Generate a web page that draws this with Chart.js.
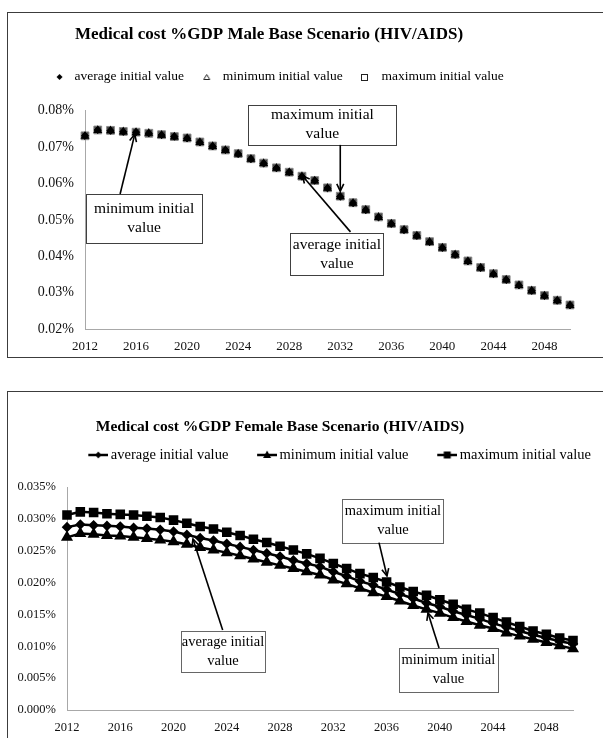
<!DOCTYPE html>
<html><head><meta charset="utf-8">
<script src="https://cdn.jsdelivr.net/npm/chart.js@4.4.1/dist/chart.umd.min.js"></script>
<style>
html,body{margin:0;padding:0;background:#fff;overflow:hidden;width:603px;height:738px;}
.frame{position:absolute;border:1px solid #3c3c3c;}
#f1{left:7px;top:12px;width:700px;height:344px;}
#f2{left:7px;top:391px;width:700px;height:400px;}
.frame canvas{position:absolute;left:0;top:0;}
</style></head><body>
<div class="frame" id="f1"><canvas id="c1" width="595" height="343"></canvas></div>
<div class="frame" id="f2"><canvas id="c2" width="595" height="346"></canvas></div>
<script>
// ---------- data ----------
const years = ['2012','2013','2014','2015','2016','2017','2018','2019','2020','2021','2022','2023','2024','2025','2026','2027','2028','2029','2030','2031','2032','2033','2034','2035','2036','2037','2038','2039','2040','2041','2042','2043','2044','2045','2046','2047','2048','2049','2050'];
const seriesNames = ['average initial value','minimum initial value','maximum initial value'];

// Male, % of GDP
const maleAvg = [0.0731,0.0747,0.0745,0.0742,0.0741,0.0738,0.0733,0.0729,0.0724,0.0713,0.0702,0.0692,0.0681,0.0667,0.0655,0.0642,0.0631,0.0619,0.0608,0.0587,0.0564,0.0546,0.0527,0.0507,0.0489,0.0472,0.0456,0.0439,0.0423,0.0404,0.0386,0.0368,0.0351,0.0335,0.0320,0.0305,0.0291,0.0278,0.0265];
const maleMin = [0.0730,0.0746,0.0745,0.0742,0.0740,0.0738,0.0733,0.0728,0.0724,0.0713,0.0702,0.0691,0.0681,0.0667,0.0655,0.0642,0.0630,0.0619,0.0607,0.0587,0.0564,0.0546,0.0527,0.0507,0.0489,0.0472,0.0456,0.0439,0.0423,0.0404,0.0386,0.0368,0.0351,0.0335,0.0320,0.0305,0.0291,0.0278,0.0265];
const maleMax = [0.0731,0.0747,0.0746,0.0743,0.0741,0.0738,0.0734,0.0729,0.0725,0.0714,0.0703,0.0692,0.0682,0.0668,0.0656,0.0643,0.0631,0.0620,0.0608,0.0588,0.0565,0.0547,0.0528,0.0508,0.0490,0.0473,0.0457,0.0440,0.0424,0.0405,0.0387,0.0369,0.0352,0.0336,0.0321,0.0306,0.0292,0.0279,0.0266];

// Female, % of GDP
const femaleAvg = [0.0287,0.0291,0.0290,0.0289,0.0288,0.0286,0.0285,0.0283,0.0280,0.0275,0.0270,0.0266,0.0261,0.0256,0.0251,0.0246,0.0241,0.0235,0.0230,0.0225,0.0217,0.0210,0.0202,0.0196,0.0189,0.0182,0.0175,0.0168,0.0162,0.0155,0.0149,0.0143,0.0136,0.0130,0.0124,0.0118,0.0113,0.0108,0.0104];
const femaleMin = [0.0271,0.0277,0.0276,0.0274,0.0273,0.0271,0.0269,0.0267,0.0264,0.0260,0.0255,0.0251,0.0247,0.0242,0.0237,0.0232,0.0227,0.0222,0.0217,0.0212,0.0204,0.0198,0.0191,0.0184,0.0178,0.0171,0.0164,0.0158,0.0152,0.0145,0.0139,0.0133,0.0128,0.0121,0.0116,0.0111,0.0106,0.0101,0.0096];
const femaleMax = [0.0306,0.0311,0.0310,0.0308,0.0307,0.0306,0.0304,0.0302,0.0298,0.0293,0.0288,0.0284,0.0279,0.0274,0.0268,0.0263,0.0257,0.0251,0.0245,0.0238,0.0230,0.0222,0.0214,0.0208,0.0201,0.0193,0.0186,0.0180,0.0173,0.0166,0.0158,0.0152,0.0145,0.0138,0.0131,0.0124,0.0119,0.0113,0.0109];

// axis ticks
const maleYTicks = [0.02,0.03,0.04,0.05,0.06,0.07,0.08];
const femaleYTicks = [0.000,0.005,0.010,0.015,0.020,0.025,0.030,0.035];
const yearTickEvery = 4;

// ---------- helpers ----------
const SERIF = "'Liberation Serif','Times New Roman',serif";
Chart.defaults.font.family = SERIF;
Chart.defaults.color = '#000';

function makeIcon(w, h, draw) {
  const c = document.createElement('canvas');
  c.width = w; c.height = h;
  draw(c.getContext('2d'));
  return c;
}
// top legend icons
const topIcons = [
  makeIcon(16, 10, g => { g.fillStyle = '#000'; g.beginPath(); g.moveTo(6.5,2); g.lineTo(9.5,5); g.lineTo(6.5,8); g.lineTo(3.5,5); g.closePath(); g.fill(); }),
  makeIcon(16, 10, g => { g.strokeStyle = '#222'; g.lineWidth = 1; g.beginPath(); g.moveTo(5.5,2.5); g.lineTo(8.5,7.5); g.lineTo(2.5,7.5); g.closePath(); g.stroke(); }),
  makeIcon(16, 10, g => { g.strokeStyle = '#222'; g.lineWidth = 1; g.strokeRect(1.5,2.5,6,6); })
];
// bottom legend icons: line + marker
function lineIcon(marker) {
  return makeIcon(24, 12, g => {
    g.strokeStyle = '#000'; g.lineWidth = 2.5; g.beginPath(); g.moveTo(4,6); g.lineTo(24,6); g.stroke();
    g.fillStyle = '#000'; g.beginPath();
    if (marker === 'diamond') { g.moveTo(14,2.5); g.lineTo(17,6); g.lineTo(14,9.5); g.lineTo(11,6); }
    else if (marker === 'triangle') { g.moveTo(14,1.5); g.lineTo(18,9); g.lineTo(10,9); }
    else { g.rect(10.5,2.5,7,7); }
    g.closePath(); g.fill();
  });
}
const bottomIcons = [lineIcon('diamond'), lineIcon('triangle'), lineIcon('square')];

function labelsWith(icons) {
  return function(chart) {
    const items = Chart.defaults.plugins.legend.labels.generateLabels(chart);
    items.forEach((it, i) => { it.pointStyle = icons[i]; });
    return items;
  };
}

// callout boxes + arrows, positioned in data coordinates
const calloutPlugin = {
  id: 'callouts',
  afterDatasetsDraw(chart, args, opts) {
    const {ctx} = chart;
    const xs = chart.scales.x, ys = chart.scales.y;
    ctx.save();
    (opts.items || []).forEach(it => {
      const cx = xs.getPixelForValue(it.at[0]), cy = ys.getPixelForValue(it.at[1]);
      const bx = Math.round(cx - it.w / 2) + 0.5, by = Math.round(cy - it.h / 2) + 0.5;
      ctx.fillStyle = '#fff';
      ctx.fillRect(bx, by, it.w, it.h);
      ctx.strokeStyle = opts.boxColor; ctx.lineWidth = 1;
      ctx.strokeRect(bx, by, it.w, it.h);
      ctx.fillStyle = '#000';
      ctx.font = opts.fontSize + 'px ' + SERIF;
      ctx.textAlign = 'center'; ctx.textBaseline = 'middle';
      const lh = opts.lineHeight;
      it.lines.forEach((t, k) => {
        ctx.fillText(t, cx, cy + (k - (it.lines.length - 1) / 2) * lh);
      });
      // arrow
      const x0 = xs.getPixelForValue(it.from[0]), y0 = ys.getPixelForValue(it.from[1]);
      const x1 = xs.getPixelForValue(it.to[0]), y1 = ys.getPixelForValue(it.to[1]);
      ctx.strokeStyle = '#000'; ctx.lineWidth = 1.6;
      ctx.beginPath(); ctx.moveTo(x0, y0); ctx.lineTo(x1, y1); ctx.stroke();
      const ang = Math.atan2(y1 - y0, x1 - x0), L = 8, spread = 0.45;
      ctx.beginPath();
      ctx.moveTo(x1 - L * Math.cos(ang - spread), y1 - L * Math.sin(ang - spread));
      ctx.lineTo(x1, y1);
      ctx.lineTo(x1 - L * Math.cos(ang + spread), y1 - L * Math.sin(ang + spread));
      ctx.stroke();
    });
    ctx.restore();
  }
};

// nudge title / legend blocks to their places
const placeBlocks = {
  id: 'placeBlocks',
  afterLayout(chart, args, opts) {
    const move = (box, d) => {
      if (!box || !d) return;
      box.left += d.dx || 0; box.right += d.dx || 0;
      box.top += d.dy || 0; box.bottom += d.dy || 0;
    };
    move(chart.titleBlock, opts.title);
    move(chart.legend, opts.legend);
  }
};

function yearTick(value) {
  const yr = +this.getLabelForValue(value);
  return (yr - +years[0]) % yearTickEvery === 0 ? String(yr) : '';
}

function makeChart(canvasId, cfg) {
  return new Chart(document.getElementById(canvasId), {
    type: 'line',
    data: { labels: years, datasets: cfg.datasets },
    plugins: [calloutPlugin, placeBlocks],
    options: {
      responsive: false,
      animation: false,
      events: [],
      layout: { padding: cfg.padding },
      scales: {
        x: {
          type: 'category',
          offset: false,
          grid: { display: false, drawTicks: false },
          border: { display: true, color: '#a8a8a8', width: 1 },
          ticks: { autoSkip: false, maxRotation: 0, padding: cfg.xPad, font: { size: cfg.xTickFont }, color: '#111', callback: yearTick },
          afterFit: s => { s.height = cfg.xHeight; }
        },
        y: {
          type: 'linear',
          min: cfg.yTicks[0],
          max: cfg.yTicks[cfg.yTicks.length - 1],
          grid: { display: false, drawTicks: false },
          border: { display: true, color: '#a8a8a8', width: 1 },
          afterBuildTicks: s => { s.ticks = cfg.yTicks.map(v => ({ value: v })); },
          ticks: { padding: cfg.yPad, font: { size: cfg.yTickFont }, color: '#111', callback: v => v.toFixed(cfg.decimals) + '%' },
          afterFit: s => { s.width = cfg.yWidth; }
        }
      },
      plugins: {
        title: {
          display: true, text: cfg.title, color: '#000',
          font: { size: cfg.titleSize, weight: 'bold', family: SERIF, lineHeight: 1.2 },
          padding: 0
        },
        legend: {
          display: true, position: 'top',
          labels: {
            usePointStyle: true, boxWidth: cfg.legendFont, boxHeight: cfg.legendFont,
            padding: cfg.legendPad, color: '#000',
            font: { size: cfg.legendFont, family: SERIF },
            generateLabels: labelsWith(cfg.icons)
          }
        },
        tooltip: { enabled: false },
        placeBlocks: cfg.place,
        callouts: cfg.callouts
      }
    }
  });
}

// ---------- male chart ----------
makeChart('c1', {
  title: 'Medical cost %GDP Male Base Scenario (HIV/AIDS)',
  titleSize: 17, legendFont: 13.5, legendPad: 18.5, xTickFont: 13, yTickFont: 14,
  icons: topIcons,
  padding: { top: 35.3, right: 33, left: 0, bottom: 0 },
  xHeight: 27, xPad: 10, yWidth: 77, yPad: 11,
  yTicks: maleYTicks, decimals: 2,
  place: { title: { dx: -20, dy: -23.5 }, legend: { dx: -10, dy: -17 } },
  datasets: [
    { label: seriesNames[0], data: maleAvg, showLine: false, clip: 10, pointStyle: 'rectRot', pointRadius: 3.6, pointBackgroundColor: '#000', pointBorderColor: '#000', pointBorderWidth: 1, borderColor: '#000', backgroundColor: '#000' },
    { label: seriesNames[1], data: maleMin, showLine: false, clip: 10, pointStyle: 'triangle', pointRadius: 4, pointBackgroundColor: 'rgba(0,0,0,0)', pointBorderColor: '#000', pointBorderWidth: 1.2, borderColor: '#000', backgroundColor: '#000' },
    { label: seriesNames[2], data: maleMax, showLine: false, clip: 10, pointStyle: 'rect', pointRadius: 5.5, pointBackgroundColor: '#444', pointBorderColor: '#8a8a8a', pointBorderWidth: 1, borderColor: '#555', backgroundColor: '#555' }
  ],
  callouts: {
    boxColor: '#404040', fontSize: 15.5, lineHeight: 19,
    items: [
      { lines: ['maximum initial', 'value'], at: [18.6, 0.0761], w: 148, h: 40, from: [20, 0.0706], to: [20, 0.0579] },
      { lines: ['minimum initial', 'value'], at: [4.63, 0.0504], w: 116, h: 49, from: [2.75, 0.0571], to: [3.9, 0.0735] },
      { lines: ['average initial', 'value'], at: [19.74, 0.0406], w: 93, h: 42, from: [20.8, 0.0467], to: [17.03, 0.0621] }
    ]
  }
});

// ---------- female chart ----------
makeChart('c2', {
  title: 'Medical cost %GDP Female Base Scenario (HIV/AIDS)',
  titleSize: 15.5, legendFont: 14.5, legendPad: 29.5, xTickFont: 12.5, yTickFont: 12.5,
  icons: bottomIcons,
  padding: { top: 22.4, right: 30, left: 0, bottom: 0 },
  xHeight: 28, xPad: 10.5, yWidth: 59, yPad: 11,
  yTicks: femaleYTicks, decimals: 3,
  place: { title: { dx: -10.5, dy: 3.3 }, legend: { dx: 49.5, dy: -14.75 } },
  datasets: [
    { label: seriesNames[0], data: femaleAvg, clip: 10, borderColor: '#000', backgroundColor: '#000', borderWidth: 2.5, pointStyle: 'rectRot', pointRadius: 3.5, pointBackgroundColor: '#000', pointBorderColor: '#000', tension: 0 },
    { label: seriesNames[1], data: femaleMin, clip: 10, borderColor: '#000', backgroundColor: '#000', borderWidth: 2.5, pointStyle: 'triangle', pointRadius: 4.5, pointBackgroundColor: '#000', pointBorderColor: '#000', tension: 0 },
    { label: seriesNames[2], data: femaleMax, clip: 10, borderColor: '#000', backgroundColor: '#000', borderWidth: 2.5, pointStyle: 'rect', pointRadius: 5, pointBackgroundColor: '#000', pointBorderColor: '#000', tension: 0 }
  ],
  callouts: {
    boxColor: '#666', fontSize: 14.5, lineHeight: 19,
    items: [
      { lines: ['average initial', 'value'], at: [11.72, 0.00923], w: 84, h: 41, from: [11.69, 0.01256], to: [9.46, 0.02684] },
      { lines: ['maximum initial', 'value'], at: [24.48, 0.02967], w: 101, h: 44, from: [23.43, 0.02626], to: [24.03, 0.02103] },
      { lines: ['minimum initial', 'value'], at: [28.64, 0.00631], w: 99, h: 44, from: [27.94, 0.00973], to: [27.11, 0.01523] }
    ]
  }
});
</script>
</body></html>
